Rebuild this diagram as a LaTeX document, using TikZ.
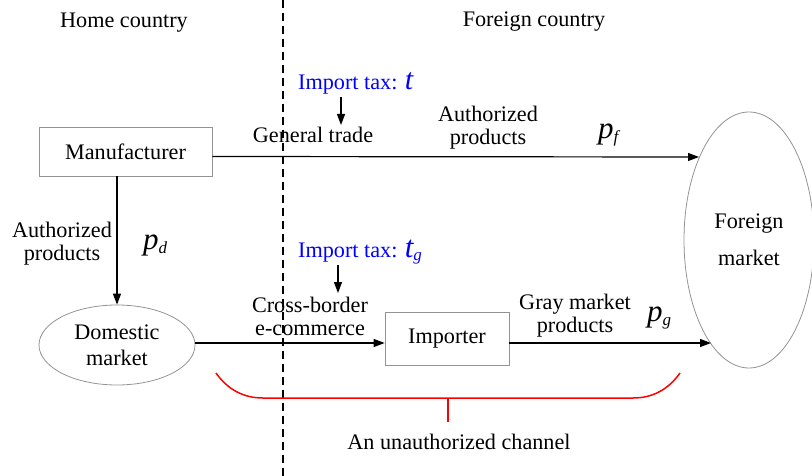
\documentclass[tikz,border=0pt]{standalone}
\usepackage{fontspec}
\setmainfont{Liberation Serif}
\usetikzlibrary{arrows.meta,shapes.geometric}
\newcommand{\varsym}[2]{{\fontsize{31}{31}\selectfont\itshape #1}\raisebox{-4pt}{\fontsize{17}{17}\selectfont\itshape #2}}
\begin{document}
\begin{tikzpicture}[x=1pt,y=-1pt,
  every node/.style={font=\fontsize{22.2}{23}\selectfont, inner sep=0pt},
  boxn/.style={draw=gray!85, line width=0.8pt},
  ell/.style={ellipse, draw=gray!85, line width=0.8pt, align=center},
  arr/.style={-{Triangle[length=11pt,width=8pt]}, line width=1.2pt},
  lbl/.style={align=center},
  tax/.style={text=blue},
  bracestyle/.style={red, line width=1.5pt},
  divider/.style={line width=1.2pt, dash pattern=on 8pt off 5pt}
]
\useasboundingbox (0,0) rectangle (812,476);

% divider
\coordinate (dtop) at (283,0);
\coordinate (dbot) at (283,476);
\draw[divider] (dtop) -- (dbot);

% headings
\node[anchor=base] (home) at (124,28) {Home country};
\node[anchor=base] (foreign) at (534,27) {Foreign country};

% main nodes
\node[boxn, minimum width=173pt, minimum height=49pt] (mf) at (125.5,151.5) {Manufacturer};
\node[boxn, minimum width=124pt, minimum height=53pt] (imp) at (447,338.5) {Importer};
\node[ell, minimum width=156pt, minimum height=80pt, font=\fontsize{22.2}{26}\selectfont] (dm) at (117,345) {Domestic\\market};
\node[ell, minimum width=130pt, minimum height=256pt, font=\fontsize{22.2}{37}\selectfont] (fm) at (749,240) {Foreign\\market};

% arrow end points on the foreign market ellipse
\coordinate (fmtop) at (699,157);
\coordinate (fmbot) at (711,343);

% connectors
\draw[arr] ([yshift=-5pt]mf.east) -- (fmtop);
\draw[arr] (dm.north |- mf.south) -- (dm.north);
\draw[arr] (dm.east |- 0,343) -- (imp.west |- 0,343);
\draw[arr] (imp.east |- 0,343) -- (fmbot);

% labels
\node[lbl] (authL) at (62,244) {Authorized\\products};
\node[anchor=base west] (pd) at (143,249) {\varsym{p}{d}};
\node[anchor=base] (gt) at (313,143) {General trade};
\node[lbl] (authT) at (488,128) {Authorized\\products};
\node[anchor=base west] (pf) at (598,139) {\varsym{p}{f}};
\node[lbl] (cb) at (310,316) {Cross-border\\e-commerce};
\node[lbl] (gm) at (575,316) {Gray market\\products};
\node[anchor=base west] (pg) at (647,321) {\varsym{p}{g}};

% import taxes
\node[anchor=base west, tax] (tax1) at (298,90) {Import tax: {\fontsize{30}{30}\selectfont\itshape t}};
\node[anchor=base west, tax] (tax2) at (298,257) {Import tax: \varsym{t}{g}};
\coordinate (t1a) at (341,97);
\coordinate (t1b) at (341,125);
\coordinate (t2a) at (338,265);
\coordinate (t2b) at (338,293);
\draw[arr] (t1a) -- (t1b);
\draw[arr] (t2a) -- (t2b);

% red brace
\coordinate (bl) at (216,373);
\coordinate (br) at (680,373);
\coordinate (bm) at (448,398);
\coordinate (bt) at (448,422);
\draw[bracestyle] (bl) .. controls (228,390) and (244,398) .. (263,398) -- (633,398) .. controls (652,398) and (668,390) .. (br);
\draw[bracestyle] (bm) -- (bt);
\node[anchor=base] (uc) at (459,449) {An unauthorized channel};
\end{tikzpicture}
\end{document}
